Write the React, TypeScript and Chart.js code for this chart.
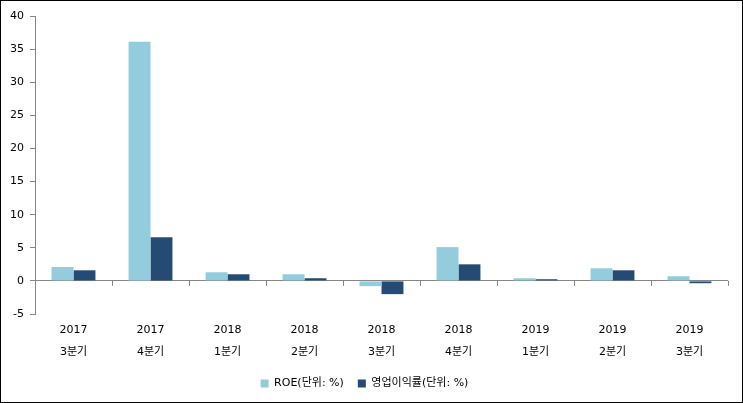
import React, { useEffect, useRef } from "react";
import { Chart, registerables } from "chart.js";

Chart.register(...registerables);

const years = ["2017", "2017", "2018", "2018", "2018", "2018", "2019", "2019", "2019"];
const quarters = ["3분기", "4분기", "1분기", "2분기", "3분기", "4분기", "1분기", "2분기", "3분기"];
const roe = [2.1, 36.1, 1.3, 1.0, -0.8, 5.1, 0.4, 1.9, 0.7];
const opMargin = [1.6, 6.6, 1.0, 0.4, -2.0, 2.5, 0.25, 1.6, -0.35];
const seriesNames = ["ROE(단위: %)", "영업이익률(단위: %)"];

const FONT = "'DejaVu Sans', 'Noto Sans CJK KR', sans-serif";
const AXIS_GRAY = "#868686";

const zeroTicks = {
  id: "zeroTicks",
  afterDraw(chart: any) {
    const x = chart.scales.x;
    const y = chart.scales.y;
    const y0 = y.getPixelForValue(0);
    const ctx = chart.ctx;
    ctx.save();
    ctx.strokeStyle = AXIS_GRAY;
    ctx.lineWidth = 1;
    for (let i = 0; i <= years.length; i++) {
      const px = Math.round(x.getPixelForValue(i - 0.5)) + 0.5;
      ctx.beginPath();
      ctx.moveTo(px, y0);
      ctx.lineTo(px, y0 + 5);
      ctx.stroke();
    }
    ctx.restore();
  },
};

export default function App() {
  const ref = useRef<HTMLCanvasElement | null>(null);
  useEffect(() => {
    if (!ref.current) return;
    const chart = new Chart(ref.current, {
      type: "bar",
      data: {
        labels: years.map((y, i) => [y, quarters[i]]),
        datasets: [
          { label: seriesNames[0], data: roe, backgroundColor: "#93CDDD" },
          { label: seriesNames[1], data: opMargin, backgroundColor: "#234B74" },
        ],
      },
      options: {
        animation: false,
        responsive: false,
        devicePixelRatio: 1,
        layout: { padding: { left: 0, right: 14, top: 15, bottom: 3 } },
        datasets: { bar: { barPercentage: 1, categoryPercentage: 0.57 } },
        plugins: {
          legend: {
            position: "bottom",
            labels: {
              boxWidth: 8,
              boxHeight: 8,
              color: "#000",
              font: { family: FONT, size: 11 },
              padding: 14,
            },
          },
          tooltip: { enabled: false },
        },
        scales: {
          x: {
            afterFit: (s: any) => {
              s.height = 50;
            },
            grid: { display: false, drawTicks: false },
            border: { display: false },
            ticks: {
              color: "#000",
              font: { family: FONT, size: 11, lineHeight: 2 },
              padding: 5,
              maxRotation: 0,
              autoSkip: false,
            },
          },
          y: {
            min: -5,
            max: 40,
            afterFit: (s: any) => {
              s.width = 34;
            },
            ticks: {
              stepSize: 5,
              color: "#000",
              font: { family: FONT, size: 11 },
              padding: 6,
            },
            grid: {
              color: (c: any) => (c.tick && c.tick.value === 0 ? AXIS_GRAY : "rgba(0,0,0,0)"),
              tickColor: AXIS_GRAY,
              tickLength: 5,
            },
            border: { display: true, color: AXIS_GRAY },
          },
        },
      },
      plugins: [zeroTicks],
    });
    return () => chart.destroy();
  }, []);
  return (
    <div
      style={{
        position: "fixed",
        left: 0,
        top: 0,
        width: 743,
        height: 403,
        boxSizing: "border-box",
        border: "1px solid #000",
        background: "#fff",
      }}
    >
      <canvas ref={ref} width={741} height={401} style={{ display: "block" }} />
    </div>
  );
}
